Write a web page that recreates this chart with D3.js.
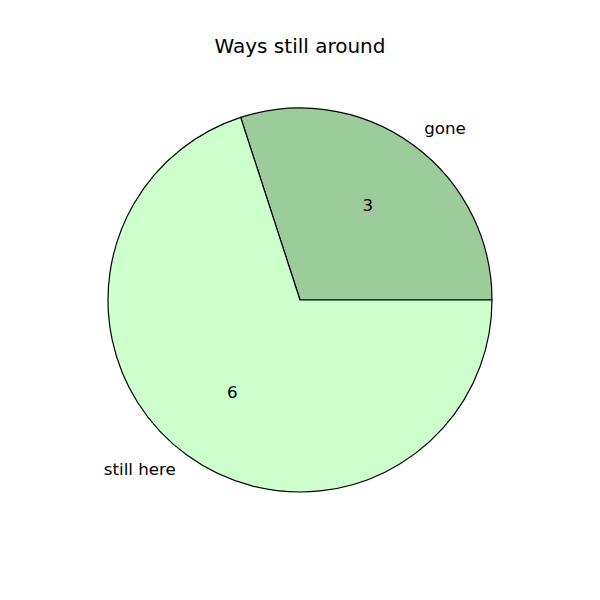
<!DOCTYPE html>
<html><head><meta charset="utf-8">
<script src="https://cdn.jsdelivr.net/npm/d3@7/dist/d3.min.js"></script>
<style>body{margin:0;background:#fff} svg text{font-family:"DejaVu Sans";}</style>
</head><body>
<script>
const categories = ["gone", "still here"];
const shares = [30, 70];            // angular share (%)
const valueLabels = ["3", "6"];     // numbers printed inside the wedges
const colors = ["#9ccc9a", "#ccffcc"];
const title = "Ways still around";

const W = 600, H = 600, cx = 300, cy = 300, R = 192;
const svg = d3.select("body").append("svg").attr("width", W).attr("height", H);

svg.append("text").attr("x", 300).attr("y", 47).attr("text-anchor", "middle")
  .attr("dominant-baseline", "middle").attr("font-size", 20).text(title);

const data = categories.map((c, i) => ({c, v: shares[i], lab: valueLabels[i], col: colors[i]}));
const pie = d3.pie().value(d => d.v).sort(null)
  .startAngle(Math.PI / 2).endAngle(Math.PI / 2 - 2 * Math.PI);
const arcs = pie(data);
const arc = d3.arc().innerRadius(0).outerRadius(R);
const g = svg.append("g").attr("transform", `translate(${cx},${cy})`);

g.selectAll("path").data(arcs).join("path")
  .attr("d", arc).attr("fill", d => d.data.col)
  .attr("stroke", "#000").attr("stroke-width", 1.2).attr("stroke-linejoin", "round");

function pos(d, f) {
  const a = (d.startAngle + d.endAngle) / 2;
  return [f * R * Math.sin(a), -f * R * Math.cos(a)];
}
g.selectAll("text.lab").data(arcs).join("text").attr("class", "lab")
  .attr("x", d => pos(d, 1.1)[0]).attr("y", d => pos(d, 1.1)[1])
  .attr("text-anchor", d => pos(d, 1.1)[0] > 0 ? "start" : "end")
  .attr("dominant-baseline", "middle").attr("font-size", 16.7)
  .text(d => d.data.c);
g.selectAll("text.val").data(arcs).join("text").attr("class", "val")
  .attr("x", d => pos(d, 0.6)[0]).attr("y", d => pos(d, 0.6)[1])
  .attr("text-anchor", "middle").attr("dominant-baseline", "middle").attr("font-size", 16.7)
  .text(d => d.data.lab);
</script>
</body></html>
